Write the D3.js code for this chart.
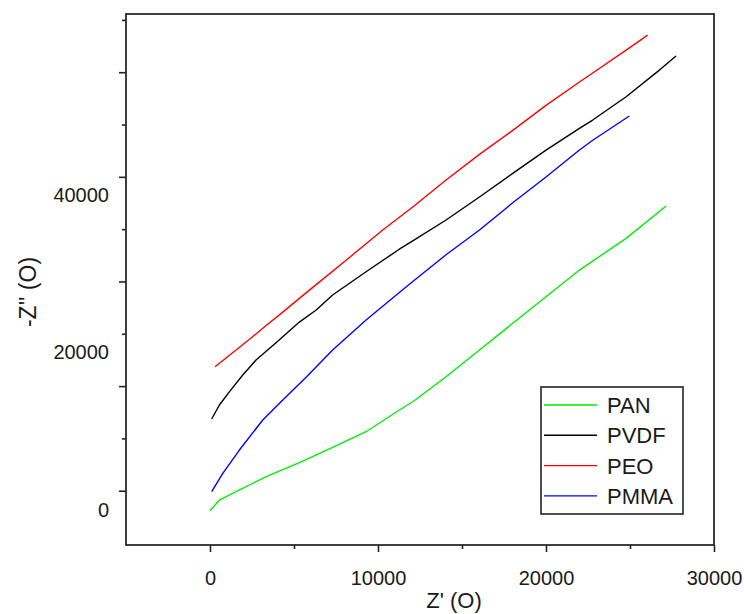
<!DOCTYPE html>
<html>
<head>
<meta charset="utf-8">
<script src="https://cdn.jsdelivr.net/npm/d3@7"></script>
<style>
    body { margin: 0; background: #fff; }
    text { font-family: "Liberation Sans", Arial, sans-serif; fill: #1a1a1a; }
</style>
</head>
<body>
<div id="content"></div>
<script>
// Nyquist data: Z' (x) and -Z'' (y)
var panX  = [0, 560, 1550, 3340, 5320, 7300, 9290, 11270, 12070, 14050, 16040, 18020, 20000, 21990, 24770, 27150];
var panY  = [-140, 1220, 2280, 4180, 5960, 7900, 9900, 12660, 13710, 16890, 20290, 23680, 27060, 30450, 34480, 38590];

var pvdfX = [100, 560, 1160, 1950, 2740, 3930, 5320, 6320, 7300, 9290, 11270, 12070, 14050, 16040, 18020, 20000, 21990, 22780, 24770, 26750, 27740];
var pvdfY = [11520, 13300, 14990, 17110, 19010, 21210, 23840, 25370, 27280, 30240, 33100, 34150, 36810, 39740, 42740, 45700, 48460, 49520, 52480, 55870, 57650];

var peoX  = [300, 1330, 2350, 3340, 4330, 5320, 6320, 8300, 10280, 12070, 14050, 16040, 18020, 20000, 21990, 22780, 24770, 26050];
var peoY  = [18160, 19900, 21650, 23400, 25100, 26850, 28600, 32050, 35540, 38460, 41890, 45150, 48200, 51380, 54350, 55500, 58410, 60320];

var pmmaX = [100, 760, 1750, 3140, 4530, 5720, 7300, 9290, 11270, 12070, 14050, 16040, 18020, 20000, 21990, 22780, 24960];
var pmmaY = [2280, 4610, 7570, 11390, 14350, 16820, 20290, 24100, 27600, 29000, 32400, 35540, 39000, 42280, 45710, 46950, 50030];

var seriesNames  = ["PAN", "PVDF", "PEO", "PMMA"];
var seriesColors = ["#00ee00", "#000000", "#ff0000", "#0000ff"];
var seriesX = [panX, pvdfX, peoX, pmmaX];
var seriesY = [panY, pvdfY, peoY, pmmaY];

// tick values
var xMajorTicks = [0, 10000, 20000, 30000];
var xMinorTicks = [5000, 15000, 25000];
var yLabelTicks = [0, 20000, 40000];
// the tick marks on the y axis do not sit on the labels in the original
var yMajorTicks = [2400, 15700, 29000, 42300, 55600];
var yMinorTicks = [9050, 22350, 35650, 48950, 62250];

var chartWidth = 744, chartHeight = 614;
var plotLeft = 126, plotRight = 714, plotTop = 14, plotBottom = 545;

var svg = d3.select("#content")
    .append("svg")
    .attr("width", chartWidth)
    .attr("height", chartHeight);

var x = d3.scaleLinear()
    .domain([-5000, 30000])
    .range([plotLeft, plotRight]);

var y = d3.scaleLinear()
    .domain([-4500, 63000])
    .range([plotBottom, plotTop]);

// curves
var line = d3.line()
    .x(d => x(d[0]))
    .y(d => y(d[1]));

for (var i = 0; i < seriesNames.length; i++)
{
    var pts = seriesX[i].map((v, j) => [v, seriesY[i][j]]);
    svg.append("path")
        .datum(pts)
        .attr("fill", "none")
        .attr("stroke", seriesColors[i])
        .attr("stroke-width", 1.4)
        .attr("stroke-linejoin", "round")
        .attr("d", line);
}

// x axis
svg.append("g")
    .attr("transform", "translate(0," + plotBottom + ")")
    .call(d3.axisBottom(x).tickValues(xMajorTicks).tickSize(7).tickPadding(19).tickFormat(d3.format("d")));
svg.append("g")
    .attr("transform", "translate(0," + plotBottom + ")")
    .call(d3.axisBottom(x).tickValues(xMinorTicks).tickSize(4).tickFormat(""));

// y axis
svg.append("g")
    .attr("transform", "translate(" + plotLeft + ",0)")
    .call(d3.axisLeft(y).tickValues(yMajorTicks).tickSize(7).tickFormat(""));
svg.append("g")
    .attr("transform", "translate(" + plotLeft + ",0)")
    .call(d3.axisLeft(y).tickValues(yMinorTicks).tickSize(4).tickFormat(""));
var yLab = svg.append("g")
    .attr("transform", "translate(" + plotLeft + ",0)")
    .call(d3.axisLeft(y).tickValues(yLabelTicks).tickSize(0).tickPadding(17).tickFormat(d3.format("d")));
yLab.selectAll("line").remove();

svg.selectAll(".domain").remove();
svg.selectAll(".tick line").attr("stroke", "#222").attr("stroke-width", 1.6);
svg.selectAll(".tick text")
    .style("font-family", "'Liberation Sans', Arial, sans-serif")
    .style("font-size", "20px")
    .attr("fill", "#1a1a1a");

// frame
svg.append("rect")
    .attr("x", plotLeft)
    .attr("y", plotTop)
    .attr("width", plotRight - plotLeft)
    .attr("height", plotBottom - plotTop)
    .attr("fill", "none")
    .attr("stroke", "#2a2a2a")
    .attr("stroke-width", 1.8);

// axis titles
svg.append("text")
    .attr("x", 454)
    .attr("y", 608)
    .attr("text-anchor", "middle")
    .style("font-size", "22px")
    .text("Z' (O)");

svg.append("text")
    .attr("transform", "translate(36,292) rotate(-90)")
    .attr("text-anchor", "middle")
    .style("font-size", "23px")
    .text("-Z'' (O)");

// legend
var legend = svg.append("g")
    .attr("transform", "translate(541,387)");

legend.append("rect")
    .attr("width", 142)
    .attr("height", 127)
    .attr("fill", "#fff")
    .attr("stroke", "#222")
    .attr("stroke-width", 1.6);

var rows = legend.selectAll(".row")
    .data(seriesNames)
    .enter().append("g")
    .attr("transform", (d, i) => "translate(0," + (18 + i * 30.3) + ")");

rows.append("line")
    .attr("x1", 3)
    .attr("x2", 56)
    .attr("stroke", (d, i) => seriesColors[i])
    .attr("stroke-width", 1.4);

rows.append("text")
    .attr("x", 66)
    .attr("y", 8)
    .style("font-size", "22px")
    .text(d => d);
</script>
</body>
</html>
